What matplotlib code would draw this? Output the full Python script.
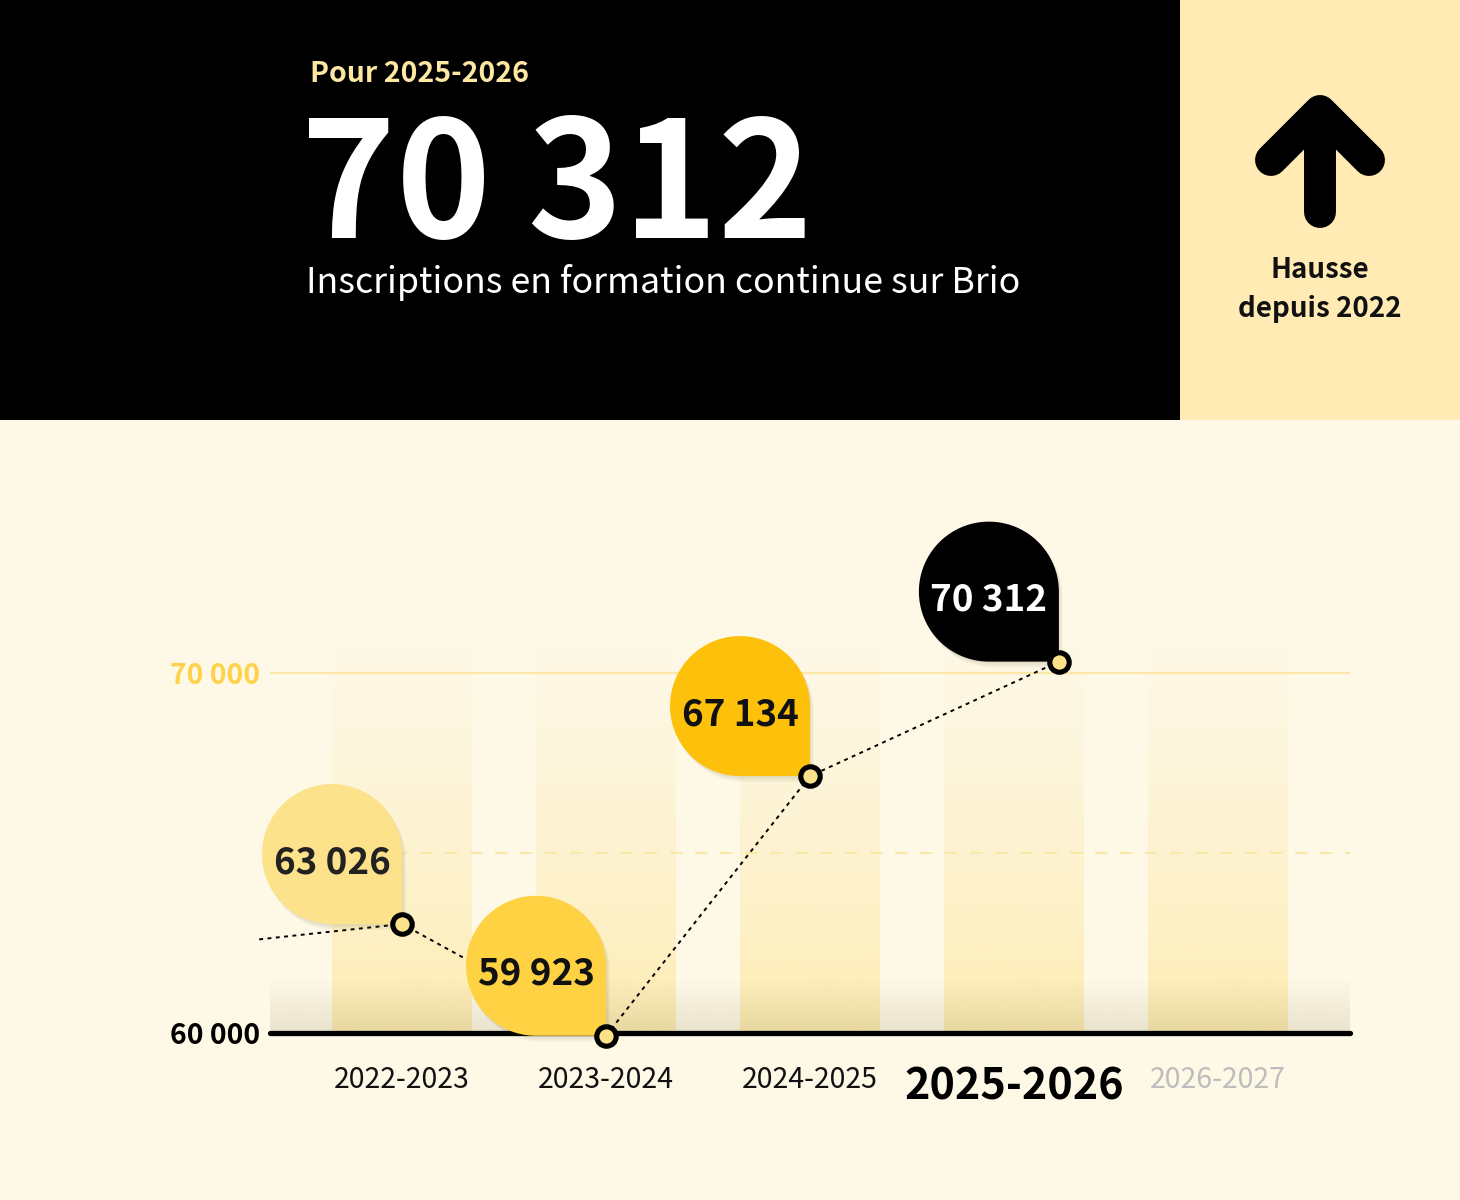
import numpy as np
import matplotlib.pyplot as plt
import matplotlib.transforms as mtrans
from matplotlib.path import Path
from matplotlib.patches import PathPatch, Rectangle

plt.rcParams['font.family'] = ['Noto Sans CJK SC', 'DejaVu Sans']

# data
years = ['2022-2023', '2023-2024', '2024-2025', '2025-2026', '2026-2027']
inscriptions = [63026, 59923, 67134, 70312]
value_labels = ['63 026', '59 923', '67 134', '70 312']
lead_in = 62600          # start of the dotted trend, left of the first year
y_ticks = [60000, 70000]
y_tick_labels = ['60 000', '70 000']

bubble_colors = ['#FDE28C', '#FFD244', '#FDC10C', '#000000']
bubble_text = ['#222222', '#111111', '#111111', '#FFFFFF']
point_shift = [0, 0, 0, 0.22]
lead_x = -0.7

BG = '#FEF8E6'
W, H = 1460, 1200
fig = plt.figure(figsize=(W / 100, H / 100), dpi=100, facecolor=BG)

# header / decoration layer in pixel units
deco = fig.add_axes([0, 0, 1, 1], zorder=0)
deco.set_xlim(0, W)
deco.set_ylim(H, 0)
deco.axis('off')
deco.add_patch(Rectangle((0, 0), 1180, 420, color='black', lw=0))
deco.add_patch(Rectangle((1180, 0), 280, 420, color='#FFEBB3', lw=0))

deco.plot([1320, 1320], [212, 125], color='black', lw=23,
          solid_capstyle='round')
deco.plot([1271, 1320, 1369], [160, 111, 160], color='black', lw=23,
          solid_capstyle='round', solid_joinstyle='round')
deco.text(1320, 278, 'Hausse', ha='center', va='baseline',
          fontsize=20, fontweight='bold', color='#111111')
deco.text(1320, 317, 'depuis 2022', ha='center', va='baseline',
          fontsize=20, fontweight='bold', color='#111111')

deco.text(310, 82, 'Pour 2025-2026', ha='left', va='baseline',
          fontsize=20.5, fontweight='bold', color='#FDE7A1')
deco.text(301, 238, '70 312', ha='left', va='baseline',
          fontsize=116, fontweight='bold', color='white')
deco.text(306, 293, 'Inscriptions en formation continue sur Brio',
          ha='left', va='baseline', fontsize=25.7, color='white')

# chart
ax = fig.add_axes([270 / W, (H - 1033) / H, 1080 / W, 533 / H], zorder=1)
ax.set_facecolor('none')
for s in ax.spines.values():
    s.set_visible(False)

xlim = (-0.647, 4.647)
ylim = (60000, 74800)

# faded columns behind each year
col = np.array([253, 236, 178]) / 255
n = 256
grad = np.zeros((n, 1, 4))
grad[:, 0, :3] = col
grad[:, 0, 3] = np.linspace(0, 1, n) ** 1.4
for i in range(len(years)):
    ax.imshow(grad, extent=(i - 0.343, i + 0.343, 60000, 71000),
              aspect='auto', zorder=1, interpolation='bilinear')

# soft shade at the foot of the chart
shade = np.zeros((n, 1, 4))
shade[:, 0, :3] = np.array([90, 75, 40]) / 255
shade[:, 0, 3] = np.linspace(0, 0.13, n)
ax.imshow(shade, extent=(xlim[0], xlim[1], 60000, 61500),
          aspect='auto', zorder=1.2, interpolation='bilinear')

ax.axhline(70000, color='#FCE8A6', lw=1.5, zorder=1.5)
ax.axhline(65000, color='#FCE8A6', lw=1.5, ls=(0, (6, 6)), zorder=1.5)
ax.axhline(60000, color='black', lw=3.8, solid_capstyle='round',
           clip_on=False, zorder=3)

xs = [i + d for i, d in enumerate(point_shift)]
ax.plot([lead_x] + xs, [lead_in] + inscriptions, color='black', lw=1.4,
        ls=(0, (2, 2.3)), zorder=2, clip_on=False)


def bubble_path(size=140):
    r = size / 2
    arc = Path.arc(0, 270)
    verts = [(0, 0)] + [(-r + r * x, r + r * y) for x, y in arc.vertices] + [(0, 0)]
    codes = [Path.MOVETO, Path.LINETO] + list(arc.codes[1:]) + [Path.CLOSEPOLY]
    return Path(np.array(verts) / 100.0, codes)


bp = bubble_path()
for x, v, lab, fc, tc in zip(xs, inscriptions, value_labels,
                             bubble_colors, bubble_text):
    base = fig.dpi_scale_trans + mtrans.ScaledTranslation(x, v, ax.transData)
    for k in range(1, 5):
        ax.add_patch(PathPatch(bp, transform=base + mtrans.Affine2D().translate(k, -1.5 * k),
                               facecolor=(0.3, 0.25, 0.1, 0.035), lw=0,
                               zorder=3.5, clip_on=False))
    ax.add_patch(PathPatch(bp, transform=base, facecolor=fc, lw=0,
                           zorder=4, clip_on=False))
    ax.annotate(lab, xy=(x, v), xytext=(-70 * 0.72, 51 * 0.72),
                textcoords='offset points', ha='center', va='baseline',
                fontsize=26.5, fontweight='bold', color=tc, zorder=7,
                annotation_clip=False)

ax.plot(xs, inscriptions, ls='none', marker='o', ms=14, mew=3.7,
        mec='black', mfc='#FDE28C', zorder=6, clip_on=False)

ax.set_xlim(*xlim)
ax.set_ylim(*ylim)

ax.set_yticks(y_ticks, y_tick_labels)
ax.tick_params(axis='y', length=0, pad=7)
for t, c in zip(ax.get_yticklabels(), ['black', '#FFD24C']):
    t.set_color(c)
    t.set_fontweight('bold')
    t.set_fontsize(20.4)

ax.set_xticks(range(len(years)), years)
ax.tick_params(axis='x', length=0, pad=23)
xt = ax.get_xticklabels()
for t in xt:
    t.set_fontsize(20.5)
    t.set_color('#111111')
xt[3].set_fontsize(31)
xt[3].set_fontweight('bold')
xt[3].set_color('black')
xt[4].set_color('#BDBDBD')

fig.savefig('out.png', dpi=100, facecolor=BG)
